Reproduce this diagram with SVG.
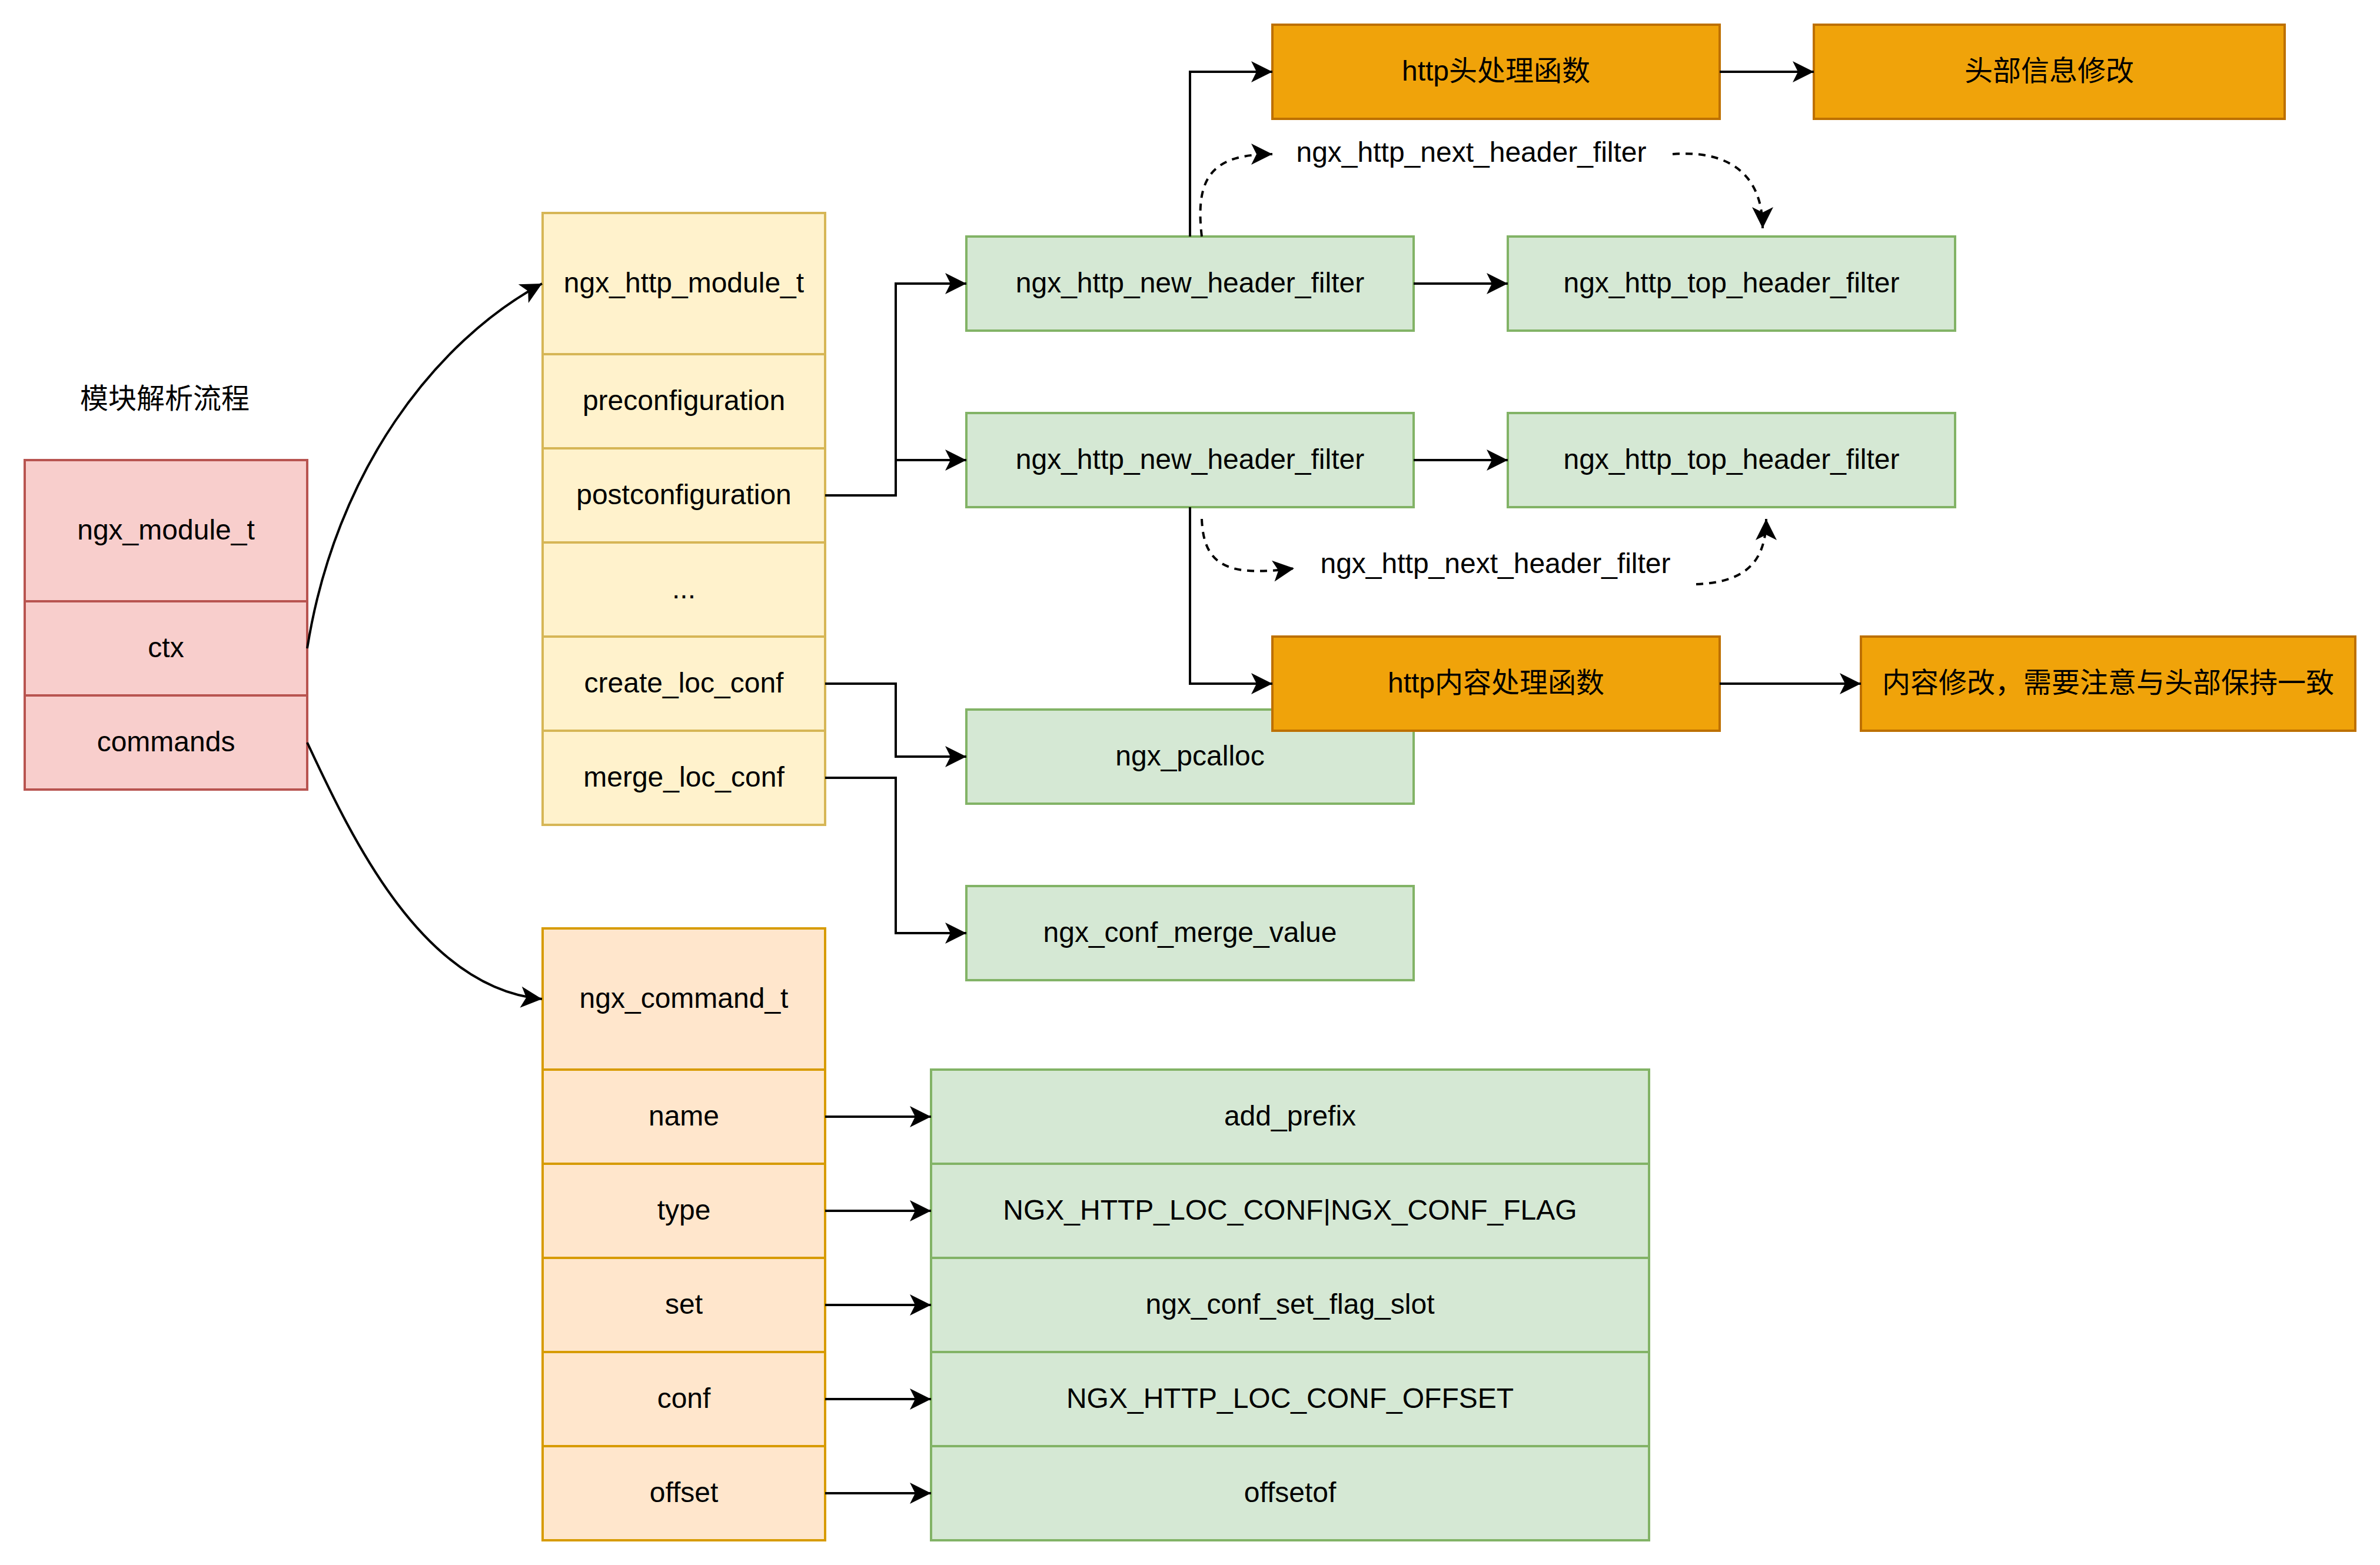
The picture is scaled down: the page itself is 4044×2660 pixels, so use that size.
<svg xmlns="http://www.w3.org/2000/svg" width="4044" height="2660" viewBox="0 0 4044 2660">
<defs>
<style>
text{font-family:"Liberation Sans","Noto Sans CJK SC",sans-serif;font-size:48px;text-anchor:middle;fill:#000}
.red{fill:#f8cecc;stroke:#b85450;stroke-width:4}
.yel{fill:#fff2cc;stroke:#d6b656;stroke-width:4}
.org{fill:#ffe6cc;stroke:#d79b00;stroke-width:4}
.grn{fill:#d5e8d4;stroke:#82b366;stroke-width:4}
.amb{fill:#f0a30a;stroke:#bd7000;stroke-width:4}
.e{fill:none;stroke:#000;stroke-width:4;marker-end:url(#arr)}
.d{fill:none;stroke:#000;stroke-width:4;stroke-dasharray:12 10;marker-end:url(#arr)}
</style>
<marker id="arr" markerUnits="userSpaceOnUse" viewBox="0 0 40 40" markerWidth="40" markerHeight="40" refX="38" refY="20" orient="auto">
<path d="M2,2 L38,20 L2,38 L11,20 Z" fill="#000" stroke="none"/>
</marker>
</defs>
<rect width="4044" height="2660" fill="#fff"/>

<g id="title"><text x="280" y="694">模块解析流程</text></g>

<g id="ngx_module_t">
<rect class="red" x="42" y="782" width="480" height="240"/>
<rect class="red" x="42" y="1022" width="480" height="160"/>
<rect class="red" x="42" y="1182" width="480" height="160"/>
<text x="282" y="917">ngx_module_t</text>
<text x="282" y="1117">ctx</text>
<text x="282" y="1277">commands</text>
</g>

<g id="ngx_http_module_t">
<rect class="yel" x="922" y="362" width="480" height="240"/>
<rect class="yel" x="922" y="602" width="480" height="160"/>
<rect class="yel" x="922" y="762" width="480" height="160"/>
<rect class="yel" x="922" y="922" width="480" height="160"/>
<rect class="yel" x="922" y="1082" width="480" height="160"/>
<rect class="yel" x="922" y="1242" width="480" height="160"/>
<text x="1162" y="497">ngx_http_module_t</text>
<text x="1162" y="697">preconfiguration</text>
<text x="1162" y="857">postconfiguration</text>
<text x="1162" y="1017">...</text>
<text x="1162" y="1177">create_loc_conf</text>
<text x="1162" y="1337">merge_loc_conf</text>
</g>

<g id="ngx_command_t">
<rect class="org" x="922" y="1578" width="480" height="240"/>
<rect class="org" x="922" y="1818" width="480" height="160"/>
<rect class="org" x="922" y="1978" width="480" height="160"/>
<rect class="org" x="922" y="2138" width="480" height="160"/>
<rect class="org" x="922" y="2298" width="480" height="160"/>
<rect class="org" x="922" y="2458" width="480" height="160"/>
<text x="1162" y="1713">ngx_command_t</text>
<text x="1162" y="1913">name</text>
<text x="1162" y="2073">type</text>
<text x="1162" y="2233">set</text>
<text x="1162" y="2393">conf</text>
<text x="1162" y="2553">offset</text>
</g>

<g id="command_values">
<rect class="grn" x="1582" y="1818" width="1220" height="160"/>
<rect class="grn" x="1582" y="1978" width="1220" height="160"/>
<rect class="grn" x="1582" y="2138" width="1220" height="160"/>
<rect class="grn" x="1582" y="2298" width="1220" height="160"/>
<rect class="grn" x="1582" y="2458" width="1220" height="160"/>
<text x="2192" y="1913">add_prefix</text>
<text x="2192" y="2073">NGX_HTTP_LOC_CONF|NGX_CONF_FLAG</text>
<text x="2192" y="2233">ngx_conf_set_flag_slot</text>
<text x="2192" y="2393">NGX_HTTP_LOC_CONF_OFFSET</text>
<text x="2192" y="2553">offsetof</text>
</g>

<g id="new_header_filter_1"><rect class="grn" x="1642" y="402" width="760" height="160"/><text x="2022" y="497">ngx_http_new_header_filter</text></g>
<g id="top_header_filter_1"><rect class="grn" x="2562" y="402" width="760" height="160"/><text x="2942" y="497">ngx_http_top_header_filter</text></g>
<g id="new_header_filter_2"><rect class="grn" x="1642" y="702" width="760" height="160"/><text x="2022" y="797">ngx_http_new_header_filter</text></g>
<g id="top_header_filter_2"><rect class="grn" x="2562" y="702" width="760" height="160"/><text x="2942" y="797">ngx_http_top_header_filter</text></g>
<g id="ngx_pcalloc"><rect class="grn" x="1642" y="1206" width="760" height="160"/><text x="2022" y="1301">ngx_pcalloc</text></g>
<g id="ngx_conf_merge_value"><rect class="grn" x="1642" y="1506" width="760" height="160"/><text x="2022" y="1601">ngx_conf_merge_value</text></g>

<g id="http_header_func"><rect class="amb" x="2162" y="42" width="760" height="160"/><text x="2542" y="137">http头处理函数</text></g>
<g id="header_modify"><rect class="amb" x="3082" y="42" width="800" height="160"/><text x="3482" y="137">头部信息修改</text></g>
<g id="http_body_func"><rect class="amb" x="2162" y="1082" width="760" height="160"/><text x="2542" y="1177">http内容处理函数</text></g>
<g id="body_modify"><rect class="amb" x="3162" y="1082" width="840" height="160"/><text x="3582" y="1177">内容修改，需要注意与头部保持一致</text></g>

<g id="connectors">
<path class="e" d="M522 1102 C570 800 740 580 921 482"/>
<path class="e" d="M522 1262 C600 1430 720 1680 921 1698"/>
<path class="e" d="M1402 842 H1522 V482 H1642"/>
<path class="e" d="M1402 842 H1522 V782 H1642"/>
<path class="e" d="M1402 1162 H1522 V1286 H1642"/>
<path class="e" d="M1402 1322 H1522 V1586 H1642"/>
<path class="e" d="M2402 482 H2562"/>
<path class="e" d="M2402 782 H2562"/>
<path class="e" d="M2022 402 V122 H2162"/>
<path class="e" d="M2922 122 H3082"/>
<path class="e" d="M2022 862 V1162 H2162"/>
<path class="e" d="M2922 1162 H3162"/>
<path class="e" d="M1402 1898 H1582"/>
<path class="e" d="M1402 2058 H1582"/>
<path class="e" d="M1402 2218 H1582"/>
<path class="e" d="M1402 2378 H1582"/>
<path class="e" d="M1402 2538 H1582"/>
<path class="d" d="M2042 402 C2030 300 2060 262 2162 262"/>
<path class="d" d="M2842 262 C2930 255 2995 290 2995 388"/>
<path class="d" d="M2042 882 C2045 965 2090 980 2199 966"/>
<path class="d" d="M2882 993 C2960 990 3001 960 3001 882"/>
<text x="2500" y="275">ngx_http_next_header_filter</text>
<text x="2541" y="974">ngx_http_next_header_filter</text>
</g>
</svg>
